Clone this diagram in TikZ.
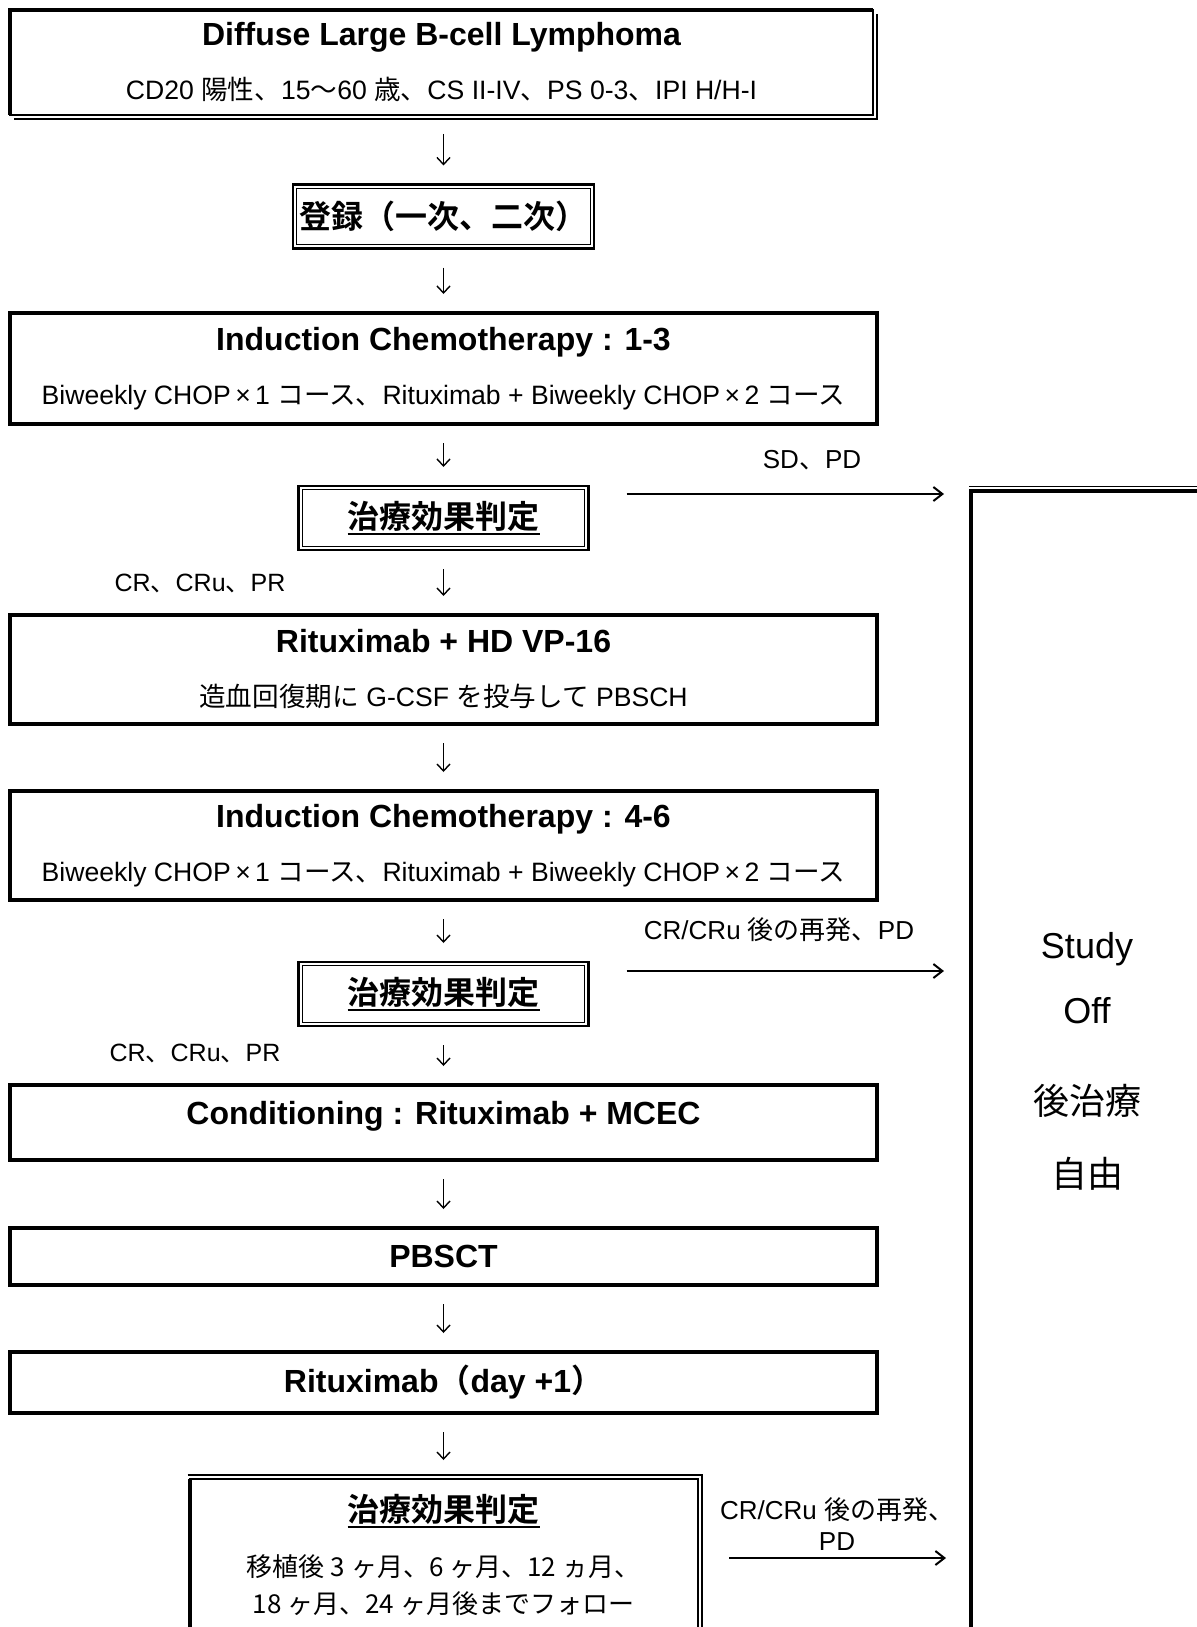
\documentclass[tikz,border=0pt]{standalone}
\usepackage{fontspec}
\setmainfont{Liberation Sans}
\newfontfamily\jpfont{Noto Sans CJK JP}[BoldFont={Noto Sans CJK JP Bold}]
\newcommand{\ja}[1]{{\jpfont #1}}
\newcommand{\hd}[1]{{\fontsize{16}{27}\selectfont\bfseries #1}}
\newsavebox{\ulbox}
\newcommand{\ul}[1]{\sbox{\ulbox}{#1}\rlap{\rule[-3pt]{\wd\ulbox}{0.9pt}}\usebox{\ulbox}}
\usepackage{tikz}
\usetikzlibrary{arrows.meta}
\tikzset{>={Straight Barb[length=3.5pt,width=6.5pt]}}
\tikzset{
  box/.style={draw, line width=1.6pt, outer sep=0pt, minimum width=433.5pt,
    align=center, font=\fontsize{13.3}{27}\selectfont},
  dblbox/.style={draw, line width=1.2pt, outer sep=0pt, minimum width=145pt,
    minimum height=32pt, font=\fontsize{16}{19}\selectfont\bfseries,
    path picture={\draw[line width=0.65pt]
      ([shift={(1.9pt,-1.9pt)}]path picture bounding box.north west) rectangle
      ([shift={(-1.9pt,1.9pt)}]path picture bounding box.south east);}},
  down/.style={->, line width=0.7pt, shorten <=9.5pt, shorten >=9.5pt},
  side/.style={-{Straight Barb[length=4.5pt,width=7pt]}, line width=1pt},
  lbl/.style={font=\fontsize{13}{15.5}\selectfont, align=center},
}

\begin{document}
\begin{tikzpicture}[x=0.5pt,y=-0.5pt]
\useasboundingbox (0,0) rectangle (1197,1627);
\clip (0,0) rectangle (1197,1627);
% Eingangskriterien
\node[box, line width=1pt, minimum width=431.5pt, minimum height=52.5pt] (dlbcl) at (441.5,62.5)
  {\hd{Diffuse Large B-cell Lymphoma}\\CD20 \ja{陽性、}15\ja{〜}60 \ja{歳、}CS II-IV\ja{、}PS 0-3\ja{、}IPI H/H-I};
\draw[line width=2pt] (dlbcl.south west) |- (dlbcl.north east);
\draw[line width=1pt] ([shift={(2pt,-2pt)}]dlbcl.south west) -| ([shift={(2pt,-2pt)}]dlbcl.north east);
\node[dblbox] (reg) at (443.5,216.5) {\ja{登録（一次、二次）}};
% Induktion 1-3
\node[box, minimum height=55.5pt] (ind1) at (443.5,368.5)
  {\hd{Induction Chemotherapy : 1-3}\\Biweekly CHOP\,×\,1 \ja{コース、}Rituximab + Biweekly CHOP\,×\,2 \ja{コース}};
\node[dblbox] (judg1) at (443.5,518) {\ul{\ja{治療効果判定}}};
\node[box, minimum height=54.5pt] (rvp) at (443.5,669.5)
  {\hd{Rituximab + HD VP-16}\\\ja{造血回復期に} G-CSF \ja{を投与して} PBSCH};
% Induktion 4-6
\node[box, minimum height=54.5pt] (ind2) at (443.5,845.5)
  {\hd{Induction Chemotherapy : 4-6}\\Biweekly CHOP\,×\,1 \ja{コース、}Rituximab + Biweekly CHOP\,×\,2 \ja{コース}};
\node[dblbox] (judg2) at (443.5,994) {\ul{\ja{治療効果判定}}};
\node[box, inner ysep=0pt, text height=19.75pt, text depth=17.75pt] (cond) at (443.5,1122.5)
  {\hd{Conditioning : Rituximab + MCEC}};
\node[box, minimum height=28.5pt] (pbsct) at (443.5,1256.5) {\hd{PBSCT}};
\node[box, minimum height=30.5pt] (ritux) at (443.5,1382.5) {\hd{Rituximab\ja{（}day +1\ja{）}}};
% Nachbeobachtung
\node[box, line width=1pt, minimum width=254pt, minimum height=76pt, font=\fontsize{13}{18.5}\selectfont] (judg3) at (443.5,1555)
  {\hd{\ul{\ja{治療効果判定}}}\\[9pt]\ja{移植後 3 ヶ月、6 ヶ月、12 ヵ月、}\\\ja{18 ヶ月、24 ヶ月後までフォロー}};
\draw[line width=2pt] (judg3.south west) -- (judg3.north west);
\draw[line width=1pt] ([shift={(-1pt,2pt)}]judg3.north west) -| ([shift={(2.3pt,0pt)}]judg3.south east);
% Study Off
\node[draw, line width=1.6pt, outer sep=0pt, minimum width=116pt, minimum height=570.5pt,
  align=center, font=\fontsize{18}{32.5}\selectfont] (off) at (1087,1061.5)
  {Study\\Off\\[13pt]\ja{後治療}\\[4pt]\ja{自由}};
\draw[line width=0.8pt] ([shift={(-0.8pt,2.2pt)}]off.north west) -- ([yshift=2.2pt]off.north east);
% Pfeile
\draw[down] (reg.north |- dlbcl.south) -- (reg.north);
\draw[down] (reg) -- (ind1);
\draw[down] (ind1) -- (judg1);
\draw[down] (judg1) -- (rvp);
\draw[down] (rvp) -- (ind2);
\draw[down] (ind2) -- (judg2);
\draw[down] (judg2) -- (cond);
\draw[down] (cond) -- (pbsct);
\draw[down] (pbsct) -- (ritux);
\draw[down] (ritux) -- (judg3);
% Abbruch
\coordinate (x1) at ([yshift=-4pt]judg1.north east);
\coordinate (x2) at ([yshift=-4.5pt]judg2.north east);
\coordinate (x3) at ([yshift=-39.5pt]judg3.north east);
\draw[side, shorten <=19pt, shorten >=13.5pt] (x1) -- (x1 -| off.west);
\draw[side, shorten <=19pt, shorten >=13.5pt] (x2) -- (x2 -| off.west);
\draw[side, shorten <=15.75pt, shorten >=12.5pt] (x3) -- (x3 -| off.west);
\node[lbl] (sdpd) at (812,460) {SD\ja{、}PD};
\node[lbl] (rel1) at (779,930) {CR/CRu \ja{後の再発、}PD};
\node[lbl] (rel2) at (837,1524) {CR/CRu \ja{後の再発、}\\PD};
\node[lbl, font=\fontsize{12.5}{15}\selectfont] (resp1) at (200,583) {CR\ja{、}CRu\ja{、}PR};
\node[lbl, font=\fontsize{12.5}{15}\selectfont] (resp2) at (195,1053) {CR\ja{、}CRu\ja{、}PR};
\end{tikzpicture}
\end{document}
